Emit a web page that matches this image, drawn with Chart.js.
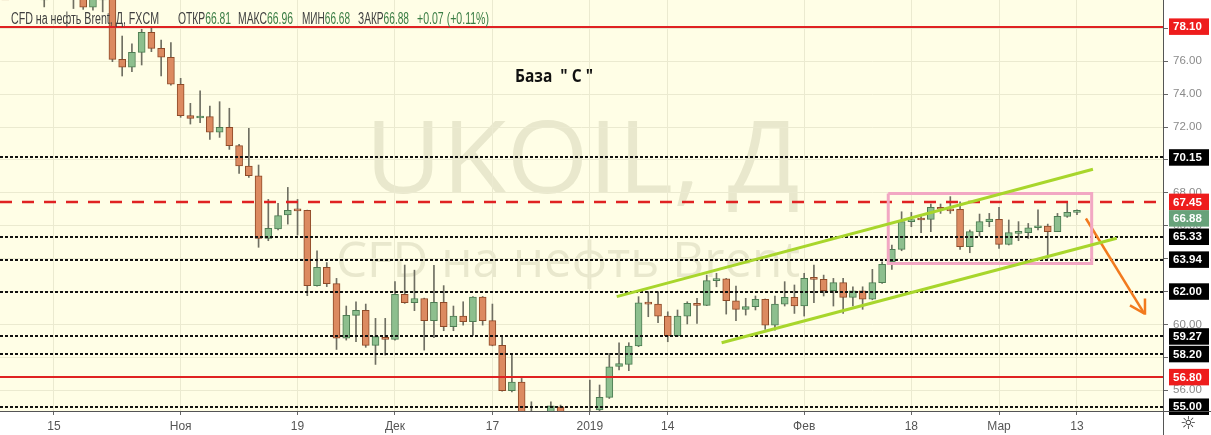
<!DOCTYPE html>
<html>
<head>
<meta charset="utf-8">
<title>UKOIL, Д</title>
<script src="https://cdn.jsdelivr.net/npm/chart.js@4.4.1/dist/chart.umd.min.js"></script>
<style>
  html, body { margin: 0; padding: 0; background: #fff; }
  #box { width: 1211px; height: 435px; position: relative; }
</style>
</head>
<body>
<div id="box"><canvas id="myChart"></canvas></div>
<script>
// daily bars, 08.10.2018 - 13.03.2019
var dates = [
  '2018-10-08','2018-10-09','2018-10-10','2018-10-11','2018-10-12','2018-10-15','2018-10-16','2018-10-17','2018-10-18','2018-10-19',
  '2018-10-22','2018-10-23','2018-10-24','2018-10-25','2018-10-26','2018-10-29','2018-10-30','2018-10-31',
  '2018-11-01','2018-11-02','2018-11-05','2018-11-06','2018-11-07','2018-11-08','2018-11-09','2018-11-12','2018-11-13','2018-11-14',
  '2018-11-15','2018-11-16','2018-11-19','2018-11-20','2018-11-21','2018-11-22','2018-11-23','2018-11-26','2018-11-27','2018-11-28',
  '2018-11-29','2018-11-30',
  '2018-12-03','2018-12-04','2018-12-05','2018-12-06','2018-12-07','2018-12-10','2018-12-11','2018-12-12','2018-12-13','2018-12-14',
  '2018-12-17','2018-12-18','2018-12-19','2018-12-20','2018-12-21','2018-12-24','2018-12-26','2018-12-27','2018-12-28','2018-12-31',
  '2019-01-02','2019-01-03','2019-01-04','2019-01-07','2019-01-08','2019-01-09','2019-01-10','2019-01-11','2019-01-14','2019-01-15',
  '2019-01-16','2019-01-17','2019-01-18','2019-01-21','2019-01-22','2019-01-23','2019-01-24','2019-01-25','2019-01-28','2019-01-29',
  '2019-01-30','2019-01-31',
  '2019-02-01','2019-02-04','2019-02-05','2019-02-06','2019-02-07','2019-02-08','2019-02-11','2019-02-12','2019-02-13','2019-02-14',
  '2019-02-15','2019-02-18','2019-02-19','2019-02-20','2019-02-21','2019-02-22','2019-02-25','2019-02-26','2019-02-27','2019-02-28',
  '2019-03-01','2019-03-04','2019-03-05','2019-03-06','2019-03-07','2019-03-08','2019-03-11','2019-03-12','2019-03-13'
];

var opens = [
  84.0,83.9,85.0,83.1,80.3,80.4,81.0,81.4,80.1,79.28,79.8,79.85,76.11,75.63,76.54,77.76,76.78,76.24,
  74.6,72.69,72.55,72.63,71.68,71.98,70.87,69.63,69.04,65.23,65.81,66.65,66.93,66.93,62.36,63.47,62.48,59.17,60.55,60.86,58.73,59.22,
  59.09,61.83,61.32,61.58,60.23,61.34,59.86,60.51,60.17,61.67,60.23,58.73,55.97,56.5,54.2,53.8,50.5,55.0,52.2,52.9,
  53.8,54.8,55.57,57.45,57.57,58.69,61.3,61.24,60.51,59.3,60.51,61.28,61.16,62.66,62.78,61.44,60.92,61.08,61.53,59.96,61.24,61.65,
  61.12,62.8,62.74,62.05,62.54,61.65,62.05,61.53,62.54,63.81,64.56,66.25,66.45,66.39,67.12,67.0,67.0,64.73,65.64,66.25,
  66.39,64.87,65.54,65.58,65.88,65.98,65.64,66.57,66.81
];
var highs = [
  84.8,85.3,85.4,83.3,81.2,81.3,81.7,81.5,80.5,80.2,80.4,80.0,77.53,77.05,77.94,78.1,77.29,77.13,
  74.96,73.44,74.2,73.28,73.54,73.14,70.95,71.92,69.69,67.6,67.36,68.33,67.6,66.95,64.48,63.76,62.8,61.12,61.38,61.24,60.37,60.37,
  62.6,63.61,63.3,61.6,63.6,62.36,61.12,61.38,61.7,61.7,61.24,59.26,58.2,56.72,55.3,54.3,55.3,55.1,53.6,54.4,
  56.62,56.32,58.24,58.89,58.89,61.69,61.99,61.99,60.77,60.88,61.38,61.59,63.0,63.11,62.8,62.33,61.59,61.73,61.55,61.73,62.6,62.4,
  63.11,63.61,63.0,62.8,62.8,62.29,62.29,63.35,63.81,64.83,66.85,66.81,66.55,67.32,67.32,67.77,67.46,65.74,66.71,66.75,
  67.12,66.35,66.25,66.14,66.96,66.1,66.75,67.46,66.96
];
var lows = [
  83.0,83.4,82.6,79.9,79.3,80.0,80.5,79.2,79.15,79.1,79.0,75.97,75.1,75.36,75.77,76.58,75.1,74.55,
  72.59,72.18,72.26,71.25,71.37,70.64,69.18,68.94,64.69,65.09,65.74,66.1,65.43,61.75,62.33,62.3,58.48,59.05,58.95,58.61,57.57,58.14,
  59.05,61.28,60.84,58.44,59.2,59.62,59.62,59.96,59.35,59.96,58.7,55.95,55.9,53.9,52.8,50.2,50.3,51.8,51.9,52.5,
  53.2,54.4,55.5,57.23,57.19,58.65,60.47,60.11,58.95,59.26,60.03,60.07,61.14,62.29,60.63,60.23,60.57,60.88,59.7,59.66,61.12,60.67,
  60.51,61.32,61.73,61.12,60.67,61.12,60.92,61.5,62.5,63.35,64.48,65.94,65.58,65.64,66.75,66.75,64.56,64.36,65.37,65.94,
  64.62,64.83,65.09,65.23,65.74,64.02,65.64,66.51,66.68
];
var closes = [
  83.9,85.0,83.1,80.3,80.4,81.0,81.4,80.1,79.28,79.8,79.85,76.11,75.63,76.54,77.76,76.78,76.24,74.6,
  72.69,72.53,72.67,71.68,71.98,70.87,69.63,69.04,65.23,65.84,66.61,66.93,66.9,62.36,63.47,62.48,59.17,60.55,60.86,58.73,59.26,59.09,
  61.83,61.32,61.58,60.23,61.34,59.86,60.51,60.17,61.67,60.23,58.73,55.97,56.5,54.2,53.8,50.5,55.06,52.2,52.9,53.8,
  54.7,55.57,57.43,57.62,58.69,61.32,61.24,60.51,59.3,60.51,61.28,61.16,62.66,62.78,61.44,60.92,61.08,61.53,59.96,61.24,61.65,61.12,
  62.8,62.74,62.05,62.54,61.65,62.05,61.53,62.54,63.65,64.56,66.25,66.35,66.35,67.12,67.0,66.9,64.73,65.64,66.25,66.41,
  64.87,65.58,65.64,65.88,65.98,65.64,66.57,66.81,66.88
];

var tickDates = ['2018-10-15','2018-11-01','2018-11-19','2018-12-03','2018-12-17','2019-01-02','2019-01-14','2019-02-01','2019-02-18','2019-03-01','2019-03-13'];
var tickText = ['15','Ноя','19','Дек','17','2019','14','Фев','18','Мар','13'];
var yTicks = [56, 58, 60, 62, 64, 66, 68, 70, 72, 74, 76, 78];

// horizontal levels
var redLevels = [78.10, 56.80];
var dashLevels = [67.45];
var dotLevels = [70.15, 65.33, 63.94, 62.00, 59.27, 58.20, 55.00];

// drawings: [bar index, price]
var upperTrend = [[62.76, 61.69], [111.64, 69.43]];
var lowerTrend = [[73.53, 58.89], [114.08, 65.24]];
var rangeBox = [[90.63, 67.96], [111.51, 67.96], [111.51, 63.70], [90.63, 63.70], [90.63, 67.96]];
var arrowLine = [[110.92, 66.44], [116.91, 60.66]];
var arrowHead = [[115.44, 61.16], [116.91, 60.66], [116.98, 61.57]];

var headerLabels = ['ОТКР', 'МАКС', 'МИН', 'ЗАКР'];
var changeText = '+0.07 (+0.11%)';

var last = closes.length - 1;
var isUp = closes.map(function (c, i) { return c >= opens[i]; });

function pts(arr) { return arr.map(function (p) { return { x: p[0], y: p[1] }; }); }

function fitText(ctx, txt, x, y, w) {
  var m = ctx.measureText(txt).width;
  ctx.save();
  ctx.translate(x, y);
  ctx.scale(w / m, 1);
  ctx.fillText(txt, 0, 0);
  ctx.restore();
}

function hline(ctx, a, y, color, width, dash) {
  ctx.save();
  ctx.strokeStyle = color;
  ctx.lineWidth = width;
  ctx.setLineDash(dash);
  ctx.beginPath();
  ctx.moveTo(a.left, y);
  ctx.lineTo(a.right, y);
  ctx.stroke();
  ctx.restore();
}

var levelsDone = false;
function drawLevels(chart) {
  if (levelsDone) return;
  levelsDone = true;
  var ctx = chart.ctx, a = chart.chartArea, ys = chart.scales.y;
  redLevels.forEach(function (v) { hline(ctx, a, Math.round(ys.getPixelForValue(v)), '#df2222', 2, []); });
  dashLevels.forEach(function (v) { hline(ctx, a, Math.round(ys.getPixelForValue(v)), '#df2222', 2.5, [12, 10]); });
  dotLevels.forEach(function (v) { hline(ctx, a, Math.round(ys.getPixelForValue(v)), '#111111', 2, [3, 2]); });
}

function noPad(s) {
  s.paddingTop = 0;
  s.paddingBottom = 0;
  s.paddingLeft = 0;
  s.paddingRight = 0;
}

var decor = {
  id: 'decor',
  beforeDraw: function (chart) {
    levelsDone = false;
    var ctx = chart.ctx, a = chart.chartArea;
    ctx.save();
    ctx.fillStyle = '#fffee6';
    ctx.fillRect(a.left, a.top, a.right - a.left, a.bottom - a.top);
    ctx.fillStyle = '#e9e8cd';
    ctx.textBaseline = 'alphabetic';
    ctx.font = '100px "Open Sans"';
    fitText(ctx, 'UKOIL, Д', 365, 193, 435);
    ctx.font = '49px "Open Sans"';
    fitText(ctx, 'CFD на нефть Brent', 336, 277, 464);
    ctx.restore();
  },
  beforeDatasetDraw: function (chart, args) {
    if (args.meta.type === 'line') drawLevels(chart);
  },
  afterDatasetsDraw: function (chart) {
    drawLevels(chart);
  },
  afterDraw: function (chart) {
    var ctx = chart.ctx, a = chart.chartArea, ys = chart.scales.y;
    ctx.save();

    // price boxes on the axis
    var boxes = [];
    redLevels.forEach(function (v) { boxes.push({ v: v, c: '#ee1c1c' }); });
    dashLevels.forEach(function (v) { boxes.push({ v: v, c: '#ee1c1c' }); });
    dotLevels.forEach(function (v) { boxes.push({ v: v, c: '#000000' }); });
    boxes.push({ v: closes[last], c: '#67a27a' });
    boxes.forEach(function (b) { b.y = ys.getPixelForValue(b.v); });
    boxes.sort(function (p, q) { return p.y - q.y; });
    var h = 16.5, prev = -1000;
    ctx.font = 'bold 11.5px "Liberation Sans"';
    ctx.textBaseline = 'middle';
    ctx.textAlign = 'left';
    boxes.forEach(function (b) {
      var top = Math.max(b.y - h / 2, prev);
      prev = top + h;
      ctx.fillStyle = b.c;
      ctx.fillRect(a.right + 6, top, 40, h);
      ctx.fillStyle = '#ffffff';
      ctx.fillText(b.v.toFixed(2), a.right + 10, top + h / 2 + 0.5);
    });

    // axis frame bits
    ctx.strokeStyle = '#555';
    ctx.lineWidth = 1;
    ctx.beginPath();
    ctx.moveTo(a.right + 0.5, a.bottom);
    ctx.lineTo(a.right + 0.5, chart.height);
    ctx.moveTo(a.right, a.bottom + 0.5);
    ctx.lineTo(chart.width, a.bottom + 0.5);
    ctx.stroke();

    // header
    ctx.textBaseline = 'alphabetic';
    ctx.font = '16px "Liberation Sans"';
    ctx.fillStyle = '#3f3f3f';
    fitText(ctx, 'CFD на нефть Brent, Д, FXCM', 11, 24, 148);
    var vals = [opens[last], highs[last], lows[last], closes[last]];
    var segX = [178, 238, 302, 358], segW = [53, 55, 48, 51];
    headerLabels.forEach(function (lab, i) {
      var val = vals[i].toFixed(2);
      var lw = ctx.measureText(lab).width, vw = ctx.measureText(val).width;
      var s = segW[i] / (lw + vw);
      ctx.save();
      ctx.translate(segX[i], 24);
      ctx.scale(s, 1);
      ctx.fillStyle = '#3f3f3f';
      ctx.fillText(lab, 0, 0);
      ctx.fillStyle = '#3a7d44';
      ctx.fillText(val, lw, 0);
      ctx.restore();
    });
    ctx.fillStyle = '#3a7d44';
    fitText(ctx, changeText, 417, 24, 72);

    // note
    ctx.fillStyle = '#111';
    ctx.font = 'bold 17px "Open Sans"';
    fitText(ctx, 'База  " С "', 515, 82, 78);

    // settings icon
    ctx.fillStyle = '#333';
    ctx.font = '18px "DejaVu Sans"';
    ctx.textAlign = 'center';
    ctx.textBaseline = 'middle';
    ctx.fillText('☼', 1188, 424);
    ctx.restore();
  }
};

var ctx = document.getElementById('myChart');

var myChart = new Chart(ctx, {
  type: 'bar',
  data: {
    datasets: [{
      label: 'wicks',
      data: dates.map(function (d, i) { return { x: i, y: [lows[i], highs[i]] }; }),
      backgroundColor: '#6f6f62',
      barThickness: 1,
      grouped: false,
      order: 4,
      clip: 0
    }, {
      label: 'bodies',
      data: dates.map(function (d, i) { return { x: i, y: [opens[i], closes[i]] }; }),
      backgroundColor: isUp.map(function (u) { return u ? '#8dbf8e' : '#dc8a60'; }),
      borderColor: isUp.map(function (u) { return u ? '#4d7c52' : '#8e4a28'; }),
      borderWidth: 1,
      borderSkipped: false,
      barThickness: 7,
      minBarLength: 2,
      grouped: false,
      order: 3,
      clip: 0
    }, {
      type: 'line',
      data: pts(upperTrend),
      borderColor: '#a8d62c',
      borderWidth: 3,
      pointRadius: 0,
      order: 1
    }, {
      type: 'line',
      data: pts(lowerTrend),
      borderColor: '#a8d62c',
      borderWidth: 3,
      pointRadius: 0,
      order: 1
    }, {
      type: 'line',
      data: pts(rangeBox),
      borderColor: '#f2a7c3',
      borderWidth: 3,
      pointRadius: 0,
      order: 1
    }, {
      type: 'line',
      data: pts(arrowLine),
      borderColor: '#f27a1e',
      borderWidth: 2.5,
      pointRadius: 0,
      order: 1
    }, {
      type: 'line',
      data: pts(arrowHead),
      borderColor: '#f27a1e',
      borderWidth: 2.5,
      pointRadius: 0,
      order: 1
    }]
  },
  options: {
    responsive: true,
    maintainAspectRatio: false,
    animation: false,
    layout: { padding: 0 },
    plugins: {
      legend: { display: false },
      tooltip: { enabled: false }
    },
    scales: {
      x: {
        type: 'linear',
        min: -0.54,
        max: 118.83,
        offset: false,
        grid: { color: '#ebead0', offset: false, tickLength: 4, tickColor: '#666' },
        border: { color: '#555' },
        afterBuildTicks: function (s) {
          s.ticks = tickDates.map(function (d) { return { value: dates.indexOf(d) }; });
        },
        afterFit: function (s) { s.height = 24; noPad(s); },
        ticks: {
          autoSkip: false,
          maxRotation: 0,
          padding: 4,
          color: '#555',
          font: { family: 'Liberation Sans', size: 12 },
          callback: function (v, i) { return tickText[i]; }
        }
      },
      y: {
        type: 'linear',
        position: 'right',
        min: 54.74,
        max: 79.72,
        grid: { color: '#ebead0', tickLength: 5, tickColor: '#666' },
        border: { color: '#555' },
        afterBuildTicks: function (s) {
          s.ticks = yTicks.map(function (v) { return { value: v }; });
        },
        afterFit: function (s) { s.width = 48; noPad(s); },
        ticks: {
          padding: 5,
          color: '#8a8a8a',
          font: { family: 'Liberation Sans', size: 11.5 },
          callback: function (v) { return v.toFixed(2); }
        }
      }
    }
  },
  plugins: [decor]
});
</script>
</body>
</html>
